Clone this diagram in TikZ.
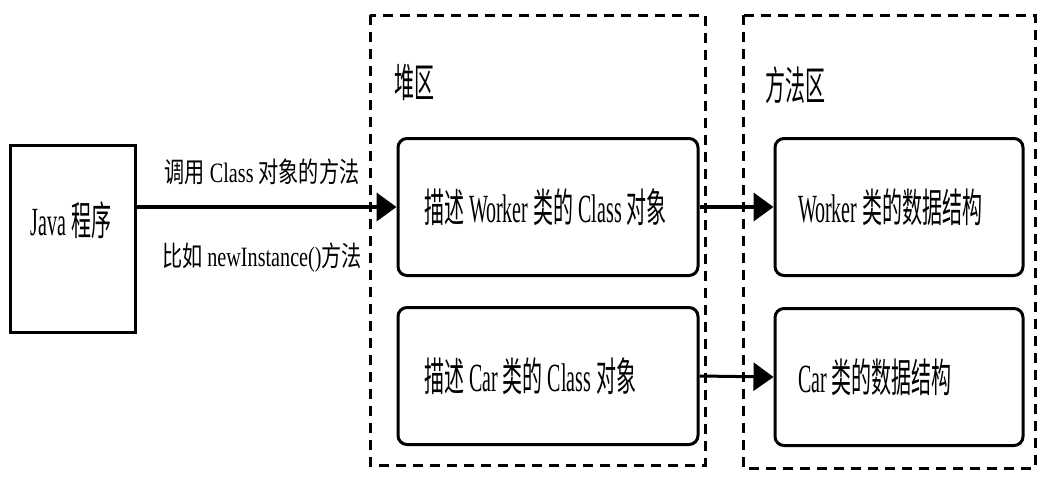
\documentclass[tikz,border=0pt]{standalone}
\usepackage{fontspec}
\usetikzlibrary{arrows.meta}
\setmainfont[FakeStretch=0.5]{Liberation Serif}
\newfontfamily\serlab[FakeStretch=0.72]{Liberation Serif}
\newfontfamily\cjk[FakeStretch=0.5]{Noto Sans CJK SC}
\newfontfamily\cjklab[FakeStretch=0.72]{Noto Sans CJK SC}
\newcommand{\zh}[1]{{\cjk #1}}
\newcommand{\zhl}[1]{{\cjklab #1}}
\newcommand{\gap}{\hspace{5pt}}

\begin{document}
\begin{tikzpicture}[x=1pt,y=-1pt,
  big/.style={font=\fontsize{40}{44}\selectfont,inner sep=0pt},
  small/.style={font=\serlab\fontsize{28}{32}\selectfont,inner sep=0pt},
  area/.style={draw,line width=3pt,dash pattern=on 10pt off 7pt},
  clsbox/.style={draw,line width=3pt,rounded corners=9pt,minimum height=137pt,
    inner xsep=26pt,text width=248pt,align=left,font=\fontsize{40}{44}\selectfont},
  databox/.style={draw,line width=3pt,rounded corners=9pt,minimum height=137pt,
    inner xsep=23pt,text width=202pt,align=left,font=\fontsize{40}{44}\selectfont},
  link/.style={line width=4pt,-{Triangle[length=20pt,width=28pt]}}]
\useasboundingbox (0,0) rectangle (1052,490);
  % Draw the two memory areas
  \draw[area] (370,15) rectangle (705,465);
  \draw[area] (743,15) rectangle (1035,468);
  \node[big] (heap) at (414,82) {\zh{堆区}};
  \node[big] (method) at (795,85) {\zh{方法区}};
  % Draw the program box
  \node[draw,line width=3pt,minimum width=125pt,minimum height=187pt] (java) at (72.5,238.5) {};
  \node[big] (javalbl) at (71,220) {Java\gap\zh{程序}};
  % Draw class objects and data structures
  \node[clsbox] (clsW) at (548,207) {\zh{描述}\gap Worker\gap\zh{类的}\gap Class\gap\zh{对象}};
  \node[clsbox] (clsC) at (548,376) {\zh{描述}\gap Car\gap\zh{类的}\gap Class\gap\zh{对象}};
  \node[databox] (datW) at (899,207) {Worker\gap\zh{类的数据结构}};
  \node[databox] (datC) at (899,377) {Car\gap\zh{类的数据结构}};
  % Draw arrows
  \draw[link] (java.east |- clsW.west) -- (clsW.west);
  \draw[link] (clsW.east) -- (datW.west);
  \draw[link,line width=3pt] (clsC.east) -- (datC.west);
  % Draw call labels
  \node[small] (callnote) at (262,172) {\zhl{调用}\gap Class\gap\zhl{对象的方法}};
  \node[small] (newnote) at (262,258) {\zhl{比如}\gap newInstance()\zhl{方法}};
\end{tikzpicture}
\end{document}
